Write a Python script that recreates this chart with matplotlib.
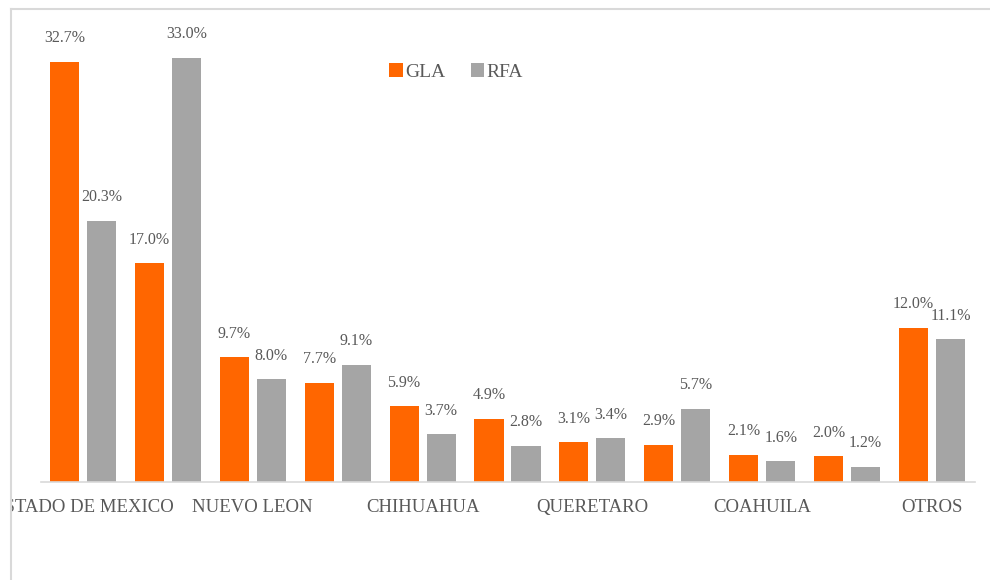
import numpy as np
import matplotlib
matplotlib.use('Agg')
import matplotlib.pyplot as plt
from matplotlib.lines import Line2D
from matplotlib.transforms import Bbox

plt.rcParams['font.family'] = ['Liberation Serif', 'DejaVu Serif']

# Data (only every other category name is visible in the original chart)
categories = ['ESTADO DE MEXICO', '', 'NUEVO LEON', '', 'CHIHUAHUA', '',
              'QUERETARO', '', 'COAHUILA', '', 'OTROS']
gla = [32.7, 17.0, 9.7, 7.7, 5.9, 4.9, 3.1, 2.9, 2.1, 2.0, 12.0]
rfa = [20.3, 33.0, 8.0, 9.1, 3.7, 2.8, 3.4, 5.7, 1.6, 1.2, 11.1]

orange = '#FF6600'
grey = '#A5A5A5'
text_col = '#595959'

fig = plt.figure(figsize=(9.9, 5.8), dpi=100)
ax = fig.add_axes([40.5 / 990, 1 - 482 / 580, 934 / 990, 450 / 580])

x = np.arange(len(categories))
w = 0.342
off = 0.218
b1 = ax.bar(x - off, gla, w, color=orange, label='GLA')
b2 = ax.bar(x + off, rfa, w, color=grey, label='RFA')

for bars, vals in [(b1, gla), (b2, rfa)]:
    for bar, v in zip(bars, vals):
        ax.annotate(f'{v:.1f}%', (bar.get_x() + bar.get_width() / 2, v),
                    xytext=(0, 17), textcoords='offset points',
                    ha='center', va='center', fontsize=11.5, color=text_col)

ax.set_xlim(-0.5, len(categories) - 0.5)
ax.set_ylim(0, 35)
ax.set_yticks([])
ax.set_xticks(x)
ax.set_xticklabels(categories, fontsize=13.5, color=text_col)
ax.tick_params(axis='x', length=0, pad=12)
for s in ['top', 'right', 'left']:
    ax.spines[s].set_visible(False)
ax.spines['bottom'].set_color('#D9D9D9')
ax.spines['bottom'].set_linewidth(1.2)

# clip labels to the chart frame (first label is cut at the left edge, as in the original)
frame_box = Bbox.from_extents(11, 0, 990, 580 - 9)
for lbl in ax.get_xticklabels():
    lbl.set_clip_box(frame_box)
    lbl.set_clip_on(True)

# chart frame lines (left and top)
fig.add_artist(Line2D([11 / 990, 11 / 990], [0, 1 - 9 / 580], transform=fig.transFigure,
                      color='#D9D9D9', lw=1.5))
fig.add_artist(Line2D([11 / 990, 1], [1 - 9 / 580, 1 - 9 / 580], transform=fig.transFigure,
                      color='#D9D9D9', lw=1.5))

ax.legend(loc='center', bbox_to_anchor=(456 / 990, 1 - 72 / 580),
          bbox_transform=fig.transFigure, ncol=2, frameon=False,
          fontsize=14, handlelength=0.7, handleheight=0.7, handletextpad=0.1,
          columnspacing=1.3, labelcolor=text_col)

fig.savefig('out.png', dpi=100)
